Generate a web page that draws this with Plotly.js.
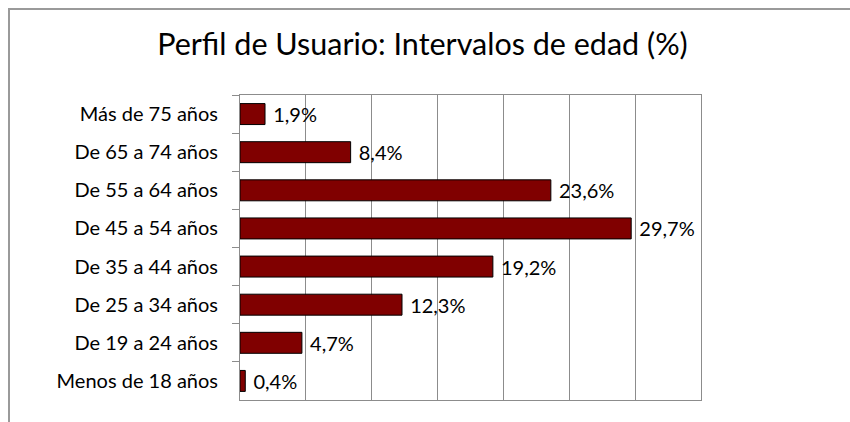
<!DOCTYPE html>
<html>
<head>
<meta charset="utf-8">
<script src="https://cdn.plot.ly/plotly-3.0.1.min.js"></script>
<style>html,body{margin:0;padding:0;background:#fff;}#chart{width:850px;height:422px;}</style>
</head>
<body>
<div id="chart"></div>
<script>
const categories = ["Más de 75 años","De 65 a 74 años","De 55 a 64 años","De 45 a 54 años","De 35 a 44 años","De 25 a 34 años","De 19 a 24 años","Menos de 18 años"];
const values = [1.9, 8.4, 23.6, 29.7, 19.2, 12.3, 4.7, 0.4];
const titleText = "Perfil de Usuario: Intervalos de edad (%)";

const FONT = "Lato, 'Open Sans', sans-serif";
const trace = {
  type: "bar",
  orientation: "h",
  x: values,
  y: categories,
  width: 0.55,
  marker: {color: "#800000", line: {color: "#000000", width: 1}},
  texttemplate: "\u00a0%{x:.1f}%",
  textposition: "outside",
  constraintext: "none",
  cliponaxis: false,
  textfont: {family: FONT, size: 20, color: "#000"},
  hoverinfo: "skip"
};

const L = 240, R = 701, T = 95, B = 400;
const pw = R - L, ph = B - T;
const px = v => (v - L) / pw;
const py = v => (B - v) / ph;

const layout = {
  width: 850, height: 422,
  margin: {l: L, r: 850 - R, t: T, b: 422 - B, pad: 0},
  paper_bgcolor: "#fff", plot_bgcolor: "#fff",
  separators: ",.",
  showlegend: false,
  font: {family: FONT, color: "#000"},
  title: {text: titleText, font: {family: FONT, size: 30.5, color: "#000"}, x: 0.497, xanchor: "center", y: 0.895, yanchor: "middle", yref: "container"},
  xaxis: {range: [0, 35], dtick: 5, tick0: 0, showgrid: true, gridcolor: "#8c8c8c", gridwidth: 1,
          showticklabels: false, ticks: "", zeroline: false, showline: true, linecolor: "#8c8c8c", linewidth: 1, mirror: true, fixedrange: true},
  yaxis: {autorange: "reversed", showgrid: false, ticks: "outside", tickson: "boundaries", ticklen: 7, tickcolor: "#8c8c8c", tickwidth: 1,
          showline: true, linecolor: "#8c8c8c", linewidth: 1, mirror: true,
          tickfont: {family: FONT, size: 20, color: "#000"}, ticklabelstandoff: 17, fixedrange: true},
  bargap: 0.45,
  shapes: [
    {type: "path", xref: "paper", yref: "paper",
     path: `M ${px(9)} ${py(430)} L ${px(9)} ${py(9)} L ${px(852)} ${py(9)}`,
     line: {color: "#9a9a9a", width: 2}}
  ]
};

Plotly.newPlot("chart", [trace], layout, {displayModeBar: false, staticPlot: true});
</script>
</body>
</html>
